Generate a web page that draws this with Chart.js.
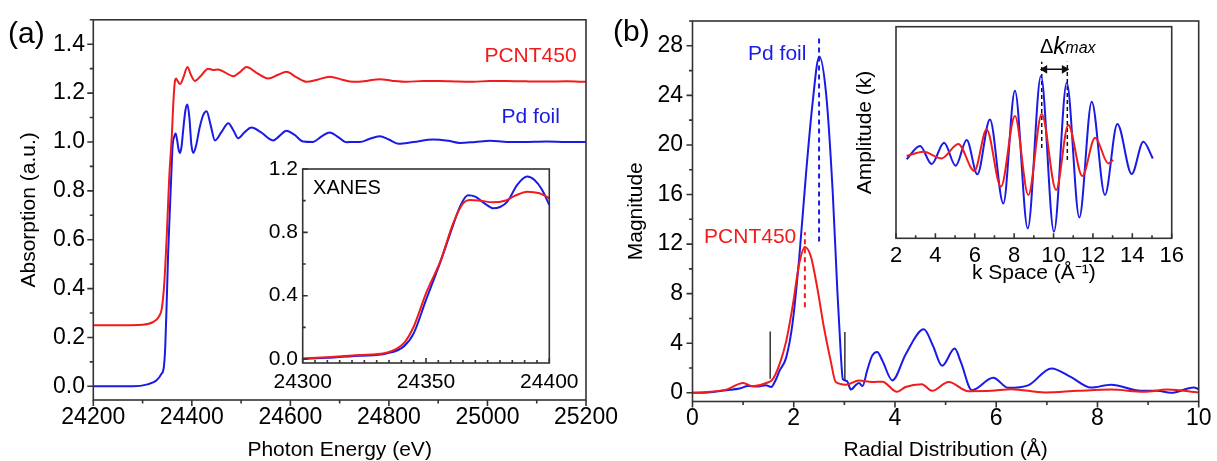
<!DOCTYPE html>
<html>
<head>
<meta charset="utf-8">
<script src="https://cdn.jsdelivr.net/npm/chart.js@4.4.0/dist/chart.umd.min.js"></script>
<style>
    html, body { margin: 0; padding: 0; background: #fff; }
    #wrap { position: relative; width: 1217px; height: 461px; }
    #wrap canvas { position: absolute; left: 0; top: 0; }
</style>
</head>
<body>
<div id="wrap">
    <canvas id="xasChart" width="1217" height="461"></canvas>
    <canvas id="xanesChart" width="1217" height="461"></canvas>
    <canvas id="ftChart" width="1217" height="461"></canvas>
    <canvas id="kChart" width="1217" height="461"></canvas>
</div>
<script>
// (a) XAS spectra
var xasEnergyRed = [24200, 24260, 24300, 24322, 24333, 24339, 24344, 24349, 24354, 24359, 24363, 24366, 24368, 24371, 24376, 24383, 24391, 24398, 24406, 24418, 24433, 24443, 24453, 24467, 24484, 24497, 24511, 24530, 24555, 24575, 24592, 24612, 24633, 24655, 24680, 24705, 24727, 24755, 24781, 24808, 24836, 24870, 24903, 24940, 24971, 25005, 25038, 25080, 25120, 25160, 25200];
var xasRed = [0.25, 0.25, 0.252, 0.264, 0.285, 0.318, 0.42, 0.612, 0.85, 1.013, 1.18, 1.253, 1.26, 1.25, 1.237, 1.265, 1.307, 1.275, 1.25, 1.27, 1.30, 1.295, 1.297, 1.285, 1.269, 1.285, 1.307, 1.285, 1.26, 1.275, 1.287, 1.265, 1.246, 1.255, 1.267, 1.255, 1.246, 1.25, 1.257, 1.25, 1.246, 1.25, 1.25, 1.247, 1.246, 1.25, 1.25, 1.248, 1.247, 1.248, 1.246];
var xasEnergyBlue = [24200, 24280, 24310, 24328, 24338, 24343, 24346, 24349, 24352, 24356, 24359, 24361, 24364, 24367, 24370, 24373, 24376, 24379, 24383, 24387, 24391, 24395, 24399, 24403, 24408, 24416, 24423, 24430, 24438, 24447, 24460, 24474, 24485, 24494, 24507, 24521, 24540, 24565, 24578, 24592, 24608, 24626, 24645, 24665, 24680, 24697, 24714, 24727, 24741, 24760, 24781, 24800, 24819, 24850, 24890, 24920, 24944, 24975, 25005, 25040, 25072, 25120, 25160, 25200];
var xasBlue = [0, 0, 0.008, 0.024, 0.05, 0.077, 0.16, 0.345, 0.55, 0.75, 0.9, 0.986, 1.02, 1.035, 1.01, 0.97, 0.955, 0.98, 1.06, 1.13, 1.153, 1.1, 0.99, 0.955, 0.98, 1.06, 1.11, 1.126, 1.07, 1.006, 1.04, 1.077, 1.045, 1.015, 1.04, 1.059, 1.04, 1.006, 1.025, 1.046, 1.03, 1.002, 1.0, 1.025, 1.039, 1.02, 0.999, 1.0, 1.0, 1.012, 1.023, 1.01, 0.993, 1.0, 1.01, 1.005, 0.996, 1.0, 1.005, 1.0, 1.0, 1.002, 1.0, 1.0];
var xasTicksX = [24200, 24400, 24600, 24800, 25000, 25200];
var xasTicksY = [0, 0.2, 0.4, 0.6, 0.8, 1.0, 1.2, 1.4];

// (a) inset XANES
var xanesEnergyRed = [24300, 24310, 24323, 24334, 24341, 24345, 24350, 24356, 24361, 24365, 24368, 24372, 24377, 24382, 24386, 24391, 24396, 24400];
var xanesRed = [0.004, 0.012, 0.025, 0.04, 0.10, 0.204, 0.415, 0.625, 0.857, 0.983, 1.005, 1.0, 0.99, 1.0, 1.03, 1.057, 1.047, 1.015];
var xanesEnergyBlue = [24300, 24310, 24323, 24334, 24341, 24345, 24350, 24356, 24361, 24364, 24367, 24370, 24374, 24377.3, 24380, 24383, 24387, 24391, 24394, 24397, 24400];
var xanesBlue = [0.0, 0.008, 0.02, 0.035, 0.08, 0.162, 0.373, 0.62, 0.846, 0.97, 1.034, 1.025, 0.98, 0.952, 0.96, 0.994, 1.1, 1.152, 1.13, 1.07, 0.973];
var xanesTicksX = [24300, 24350, 24400];
var xanesTicksY = [0, 0.4, 0.8, 1.2];

// (b) Fourier transform
var ftRBlue = [0.0, 0.3, 0.67, 0.93, 1.1, 1.3, 1.45, 1.555, 1.65, 1.72, 1.85, 1.98, 2.11, 2.24, 2.37, 2.505, 2.64, 2.77, 2.86, 2.93, 2.97, 3.05, 3.13, 3.22, 3.29, 3.36, 3.45, 3.55, 3.65, 3.75, 3.95, 4.21, 4.57, 4.75, 4.93, 5.18, 5.3, 5.52, 5.94, 6.24, 6.63, 7.09, 7.48, 7.87, 8.27, 8.86, 9.18, 9.45, 9.9, 10.0];
var ftBlue = [0.0, 0.02, 0.21, 0.35, 0.55, 0.52, 0.62, 0.47, 1.1, 1.79, 2.84, 5.73, 10.98, 17.55, 23.3, 27.14, 24.1, 16.2, 8.35, 3.1, 1.1, 0.95, 0.26, 0.6, 0.79, 0.55, 1.8, 3.0, 3.3, 2.6, 1.0, 3.1, 5.12, 3.8, 2.18, 3.57, 2.5, 0.21, 1.21, 0.4, 0.6, 1.97, 1.26, 0.42, 0.66, 0.16, 0.16, 0.0, 0.42, 0.3];
var ftRRed = [0.0, 0.67, 1.0, 1.19, 1.46, 1.59, 1.72, 1.85, 1.98, 2.11, 2.22, 2.34, 2.47, 2.6, 2.73, 2.83, 3.03, 3.29, 3.55, 3.75, 4.04, 4.21, 4.53, 4.73, 5.06, 5.45, 5.9, 6.3, 6.96, 7.61, 8.27, 8.92, 9.38, 10.0];
var ftRed = [0.0, 0.26, 0.79, 0.53, 0.79, 1.13, 2.31, 4.15, 7.04, 10.46, 11.77, 10.98, 8.35, 5.2, 2.58, 0.87, 0.66, 1.0, 0.87, 0.9, 0.08, 0.47, 0.69, 0.16, 0.87, 0.13, 0.16, 0.29, 0.03, 0.16, 0.26, 0.08, 0.26, 0.03];
var ftTicksX = [0, 2, 4, 6, 8, 10];
var ftTicksY = [0, 4, 8, 12, 16, 20, 24, 28];
var ftPeakBlue = { r: 2.5, from: 12.2, to: 28.7 };
var ftPeakRed = { r: 2.22, from: 6.9, to: 12.95 };
var ftWindow = [{ r: 1.535, from: 1.13, to: 4.94 }, { r: 3.01, from: 1.0, to: 4.9 }];

// (b) inset k space
var kBlue = [2.54, 3.22, 3.81, 4.44, 5.03, 5.59, 6.13, 6.77, 7.45, 8.04, 8.69, 9.36, 10.02, 10.67, 11.31, 11.94, 12.61, 13.24, 13.97, 14.56, 15.04];
var ampBlue = [-0.026, 0.107, -0.073, 0.14, -0.09, 0.167, -0.176, 0.373, -0.467, 0.66, -0.717, 0.807, -0.75, 0.74, -0.607, 0.55, -0.383, 0.327, -0.173, 0.15, -0.017];
var kRed = [2.54, 3.39, 4.32, 5.16, 5.98, 6.6, 7.33, 8.04, 8.72, 9.4, 10.13, 10.75, 11.46, 12.11, 12.78, 13.03];
var ampRed = [0.007, 0.05, -0.017, 0.127, -0.143, 0.273, -0.3, 0.407, -0.383, 0.427, -0.333, 0.317, -0.193, 0.19, -0.067, -0.033];
var kTicksX = [2, 4, 6, 8, 10, 12, 14, 16];
var kMarks = [{ k: 9.4, from: 0.087, to: 0.95 }, { k: 10.7, from: -0.033, to: 0.95 }];
var kArrow = { from: 9.55, to: 10.55, amp: 0.874 };

var RED = '#f01c1c';
var BLUE = '#1a1ae6';
var FONT = 'Arial, "Liberation Sans", sans-serif';

Chart.defaults.font.family = FONT;
Chart.defaults.color = '#000';

function pts(xs, ys) {
    return xs.map(function(x, i) { return { x: x, y: ys[i] }; });
}

function curve(xs, ys, color) {
    return {
        data: pts(xs, ys),
        borderColor: color,
        borderWidth: 2,
        pointRadius: 0,
        fill: false,
        cubicInterpolationMode: 'monotone'
    };
}

function seg(x, y0, y1, color, dash, width) {
    return {
        data: [{ x: x, y: y0 }, { x: x, y: y1 }],
        borderColor: color,
        borderWidth: width || 2,
        borderDash: dash || [],
        pointRadius: 0,
        tension: 0
    };
}

function fixTicks(list) {
    return function(scale) {
        scale.ticks = list.map(function(v) { return { value: v }; });
    };
}

function axis(opt) {
    var a = {
        type: 'linear',
        min: opt.min,
        max: opt.max,
        afterBuildTicks: fixTicks(opt.ticks || []),
        grid: { display: false, drawTicks: false },
        border: { display: false },
        ticks: {
            display: !!opt.ticks,
            font: { size: opt.size || 23, lineHeight: 1 },
            color: '#000',
            padding: opt.pad,
            maxRotation: 0,
            autoSkip: false,
            callback: opt.fmt || function(v) { return String(v); }
        },
        title: {
            display: !!opt.title,
            text: opt.title || '',
            font: { size: 21, lineHeight: 1 },
            color: '#000',
            padding: 0
        }
    };
    if (opt.width) a.afterFit = function(s) { s.width = opt.width; };
    if (opt.height) a.afterFit = function(s) { s.height = opt.height; };
    return a;
}

// box around the plot plus major/minor tick marks
var framePlugin = {
    id: 'frame',
    afterDatasetsDraw: function(chart, args, opts) {
        var ctx = chart.ctx, a = chart.chartArea;
        ctx.save();
        ctx.strokeStyle = '#333';
        ctx.lineWidth = 1.6;
        ctx.strokeRect(a.left, a.top, a.right - a.left, a.bottom - a.top);
        ['x', 'y'].forEach(function(id) {
            var o = opts[id];
            if (!o) return;
            var s = chart.scales[id];
            var sign = o.dir === 'in' ? -1 : 1;
            var major = s.ticks.map(function(t) { return t.value; });
            var all = major.map(function(v) { return { v: v, len: o.major }; });
            if (o.minor) {
                for (var k = Math.ceil(s.min / o.minor); k * o.minor <= s.max + 1e-9; k++) {
                    var v = k * o.minor;
                    var isMajor = major.some(function(m) { return Math.abs(m - v) < o.minor / 10; });
                    if (!isMajor) all.push({ v: v, len: o.minorLen });
                }
            }
            ctx.beginPath();
            all.forEach(function(t) {
                var p = s.getPixelForValue(t.v);
                if (id === 'x') {
                    ctx.moveTo(p, a.bottom);
                    ctx.lineTo(p, a.bottom + sign * t.len);
                } else {
                    ctx.moveTo(a.left, p);
                    ctx.lineTo(a.left - sign * t.len, p);
                }
            });
            ctx.stroke();
        });
        ctx.restore();
    }
};

// text labels, in data units unless px is set
var notesPlugin = {
    id: 'notes',
    afterDraw: function(chart, args, opts) {
        var ctx = chart.ctx;
        (opts.items || []).forEach(function(n) {
            var x = n.px ? n.x : chart.scales.x.getPixelForValue(n.x);
            var y = n.px ? n.y : chart.scales.y.getPixelForValue(n.y);
            var parts = n.parts || [{ text: n.text, size: n.size, italic: n.italic }];
            ctx.save();
            ctx.fillStyle = n.color || '#000';
            ctx.textBaseline = 'middle';
            var widths = parts.map(function(p) {
                ctx.font = (p.italic ? 'italic ' : '') + p.size + 'px ' + FONT;
                return ctx.measureText(p.text).width;
            });
            var total = widths.reduce(function(s, w) { return s + w; }, 0);
            var cx = n.align === 'right' ? x - total : x;
            parts.forEach(function(p, i) {
                ctx.font = (p.italic ? 'italic ' : '') + p.size + 'px ' + FONT;
                ctx.textAlign = 'left';
                ctx.fillText(p.text, cx, y + (p.dy || 0));
                cx += widths[i];
            });
            ctx.restore();
        });
    }
};

var common = {
    responsive: false,
    animation: false,
    devicePixelRatio: 1,
    events: []
};

function makeChart(id, datasets, layout, scales, frame, notes) {
    return new Chart(document.getElementById(id).getContext('2d'), {
        type: 'line',
        data: { datasets: datasets },
        options: Object.assign({}, common, {
            layout: { padding: layout },
            scales: scales,
            plugins: {
                legend: { display: false },
                tooltip: { enabled: false },
                frame: frame,
                notes: { items: notes }
            }
        }),
        plugins: [framePlugin, notesPlugin]
    });
}

makeChart('xasChart',
    [curve(xasEnergyRed, xasRed, RED), curve(xasEnergyBlue, xasBlue, BLUE)],
    { left: 19, right: 631, top: 12.7, bottom: 0 },
    {
        x: axis({ min: 24200, max: 25200, ticks: xasTicksX, pad: 6, height: 61, title: 'Photon Energy (eV)' }),
        y: axis({ min: -0.056, max: 1.5, ticks: xasTicksY, pad: 8.3, width: 74.3, title: 'Absorption (a.u.)',
                  fmt: function(v) { return v.toFixed(1); } })
    },
    { x: { dir: 'out', major: 6, minor: 100, minorLen: 3.5 }, y: { dir: 'out', major: 6, minor: 0.1, minorLen: 3.5 } },
    [
        { text: 'PCNT450', x: 25181, y: 1.351, color: RED, size: 21, align: 'right' },
        { text: 'Pd foil', x: 25147, y: 1.102, color: BLUE, size: 21, align: 'right' },
        { text: '(a)', x: 8, y: 35, px: true, size: 30 }
    ]
);

makeChart('xanesChart',
    [curve(xanesEnergyRed, xanesRed, RED), curve(xanesEnergyBlue, xanesBlue, BLUE)],
    { left: 262.7, right: 667.7, top: 169, bottom: 63 },
    {
        x: axis({ min: 24300, max: 24400, ticks: xanesTicksX, pad: 9, height: 35, size: 21 }),
        y: axis({ min: -0.025, max: 1.2, ticks: xanesTicksY, pad: 4.7, width: 40, size: 21,
                  fmt: function(v) { return v.toFixed(1); } })
    },
    { x: { dir: 'in', major: 5, minor: 5, minorLen: 3 }, y: { dir: 'in', major: 5, minor: 0.2, minorLen: 3 } },
    [
        { text: 'XANES', x: 24304.2, y: 1.074, size: 20 }
    ]
);

var ftSets = [
    curve(ftRRed, ftRed, RED),
    curve(ftRBlue, ftBlue, BLUE),
    seg(ftPeakBlue.r, ftPeakBlue.from, ftPeakBlue.to, BLUE, [5, 4], 2),
    seg(ftPeakRed.r, ftPeakRed.from, ftPeakRed.to, RED, [5, 4], 2)
];
ftWindow.forEach(function(w) { ftSets.push(seg(w.r, w.from, w.to, '#333', [], 1.5)); });

makeChart('ftChart', ftSets,
    { left: 626, right: 15.3, top: 12.7, bottom: 0 },
    {
        x: axis({ min: 0, max: 10, ticks: ftTicksX, pad: 5.5, height: 59.5, title: 'Radial Distribution (Å)' }),
        y: axis({ min: -0.7, max: 30, ticks: ftTicksY, pad: 9.5, width: 66.5, title: 'Magnitude' })
    },
    { x: { dir: 'out', major: 6, minor: 1, minorLen: 3.5 }, y: { dir: 'out', major: 6, minor: 2, minorLen: 3.5 } },
    [
        { text: 'Pd foil', x: 2.25, y: 27.3, color: BLUE, size: 21, align: 'right' },
        { text: 'PCNT450', x: 2.05, y: 12.58, color: RED, size: 21, align: 'right' },
        { text: '(b)', x: 613, y: 33, px: true, size: 30 }
    ]
);

var kSets = [
    curve(kRed, ampRed, RED),
    curve(kBlue, ampBlue, BLUE)
];
kMarks.forEach(function(m) { kSets.push(seg(m.k, m.from, m.to, '#111', [4, 3], 1.5)); });
kSets.push({
    data: [{ x: kArrow.from, y: kArrow.amp }, { x: kArrow.to, y: kArrow.amp }],
    borderColor: '#111',
    backgroundColor: '#111',
    borderWidth: 1.5,
    tension: 0,
    pointStyle: 'triangle',
    pointRadius: 3.5,
    pointRotation: [-90, 90]
});

makeChart('kChart', kSets,
    { left: 854.5, right: 45.3, top: 26.7, bottom: 177.5 },
    {
        x: axis({ min: 2, max: 16, ticks: kTicksX, pad: 6.2, height: 45.2, size: 22, title: 'k Space (Å⁻¹)' }),
        y: axis({ min: -0.816, max: 1.3, pad: 0, width: 41.5, title: 'Amplitude (k)' })
    },
    { x: { dir: 'in', major: 5, minor: 1, minorLen: 3 } },
    [
        { x: 9.31, y: 1.097, parts: [
            { text: 'Δ', size: 20 },
            { text: 'k', size: 24, italic: true },
            { text: 'max', size: 16, italic: true, dy: 2 }
        ] }
    ]
);
</script>
</body>
</html>
